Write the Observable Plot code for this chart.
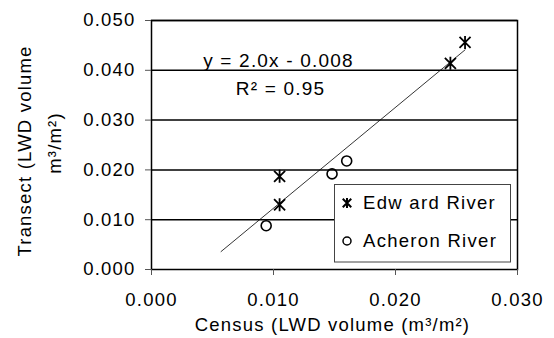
<!DOCTYPE html>
<html>
<head>
<meta charset="utf-8">
<script src="https://cdn.jsdelivr.net/npm/d3@7"></script>
<script src="https://cdn.jsdelivr.net/npm/@observablehq/plot@0.6"></script>
<style>
  html, body { margin: 0; padding: 0; background: #fff; }
  #chart { position: relative; width: 554px; height: 338px; }
</style>
</head>
<body>
<div id="chart"></div>
<script>
// ---- data ----
const edwardX = [0.0105, 0.0105, 0.0245, 0.0257];
const edwardY = [0.0187, 0.0130, 0.0414, 0.0456];
const acheronX = [0.0094, 0.0148, 0.0160];
const acheronY = [0.0088, 0.0192, 0.0218];
const trendX = [0.0057, 0.0257];
const trendY = [0.0036, 0.0441];
const xTicks = [0, 0.01, 0.02, 0.03];
const yTicks = [0, 0.01, 0.02, 0.03, 0.04, 0.05];
const seriesNames = ["Edw ard River", "Acheron River"];
const equationText = "y = 2.0x - 0.008";
const r2Text = "R\u00B2 = 0.95";
const xTitle = "Census (LWD volume (m\u00B3/m\u00B2)";
const yTitle1 = "Transect (LWD volume";
const yTitle2 = "m\u00B3/m\u00B2)";

// tables built from arrays
const edward = edwardX.map((x, i) => ({x, y: edwardY[i]}));
const acheron = acheronX.map((x, i) => ({x, y: acheronY[i]}));
const trend = trendX.map((x, i) => ({x, y: trendY[i]}));

// Excel-style star marker: X with vertical bar
const star = {
  draw(ctx, size) {
    const r = Math.sqrt(size / Math.PI);
    const w = r * 0.85;
    ctx.moveTo(0, -r); ctx.lineTo(0, r);
    ctx.moveTo(-w, -w); ctx.lineTo(w, w);
    ctx.moveTo(-w, w); ctx.lineTo(w, -w);
  }
};

const fmt = d3.format(".3f");
const FONT = "'Liberation Sans', Arial, sans-serif";

const plot = Plot.plot({
  width: 554,
  height: 338,
  marginLeft: 151,
  marginRight: 37,
  marginTop: 20,
  marginBottom: 69,
  style: {fontFamily: FONT, fontSize: "18.5px", color: "#000", background: "#fff", letterSpacing: "1.2px"},
  x: {domain: [0, 0.03]},
  y: {domain: [0, 0.05]},
  marks: [
    Plot.ruleY(yTicks.slice(1), {x1: 0, x2: 0.03, stroke: "#000", strokeWidth: 1.5}),
    Plot.frame({stroke: "#000", strokeWidth: 1.5}),
    Plot.axisY({ticks: yTicks, tickFormat: fmt, tickSize: 6, tickPadding: 10, label: null, fontSize: 18.5, stroke: "#555"}),
    Plot.axisX({ticks: xTicks, tickFormat: fmt, tickSize: 6, tickPadding: 17, label: null, fontSize: 18.5, stroke: "#555"}),
    Plot.line(trend, {x: "x", y: "y", stroke: "#000", strokeWidth: 0.8}),
    Plot.dot(acheron, {x: "x", y: "y", r: 5, symbol: "circle", stroke: "#000", strokeWidth: 1.6, fill: "none"}),
    Plot.dot(edward, {x: "x", y: "y", r: 6.5, symbol: star, stroke: "#000", strokeWidth: 1.8, fill: "none"}),
    Plot.text([equationText], {frameAnchor: "top-left", dx: 127, dy: 40, text: d => d, textAnchor: "middle", lineAnchor: "middle", fontSize: 19}),
    Plot.text([r2Text], {frameAnchor: "top-left", dx: 129, dy: 68, text: d => d, textAnchor: "middle", lineAnchor: "middle", fontSize: 19}),
    Plot.text([xTitle], {frameAnchor: "bottom", dx: -2, dy: 56, text: d => d, textAnchor: "middle", lineAnchor: "middle", fontSize: 18.5}),
    Plot.text([yTitle1], {frameAnchor: "left", dx: -126, dy: 6, rotate: -90, text: d => d, textAnchor: "middle", lineAnchor: "middle", fontSize: 18.5}),
    Plot.text([yTitle2], {frameAnchor: "left", dx: -96, dy: -2, rotate: -90, text: d => d, textAnchor: "middle", lineAnchor: "middle", fontSize: 18.5})
  ]
});

// legend box drawn into the same SVG
const svg = d3.select(plot);
const lg = svg.append("g").attr("font-family", FONT).attr("font-size", 18.5)
  .attr("letter-spacing", "1.3px").attr("text-anchor", "start");
lg.append("rect").attr("x", 334.5).attr("y", 184.5).attr("width", 176).attr("height", 77.5)
  .attr("fill", "#fff").attr("stroke", "#444").attr("stroke-width", 1);
const rows = [203, 241];
const sx = d3.scaleOrdinal().domain(seriesNames).range(rows);
lg.append("path").attr("transform", `translate(347,${sx(seriesNames[0])})`)
  .attr("d", d3.symbol(star, Math.PI * 25)()).attr("stroke", "#000").attr("stroke-width", 2).attr("fill", "none");
lg.append("circle").attr("cx", 347).attr("cy", sx(seriesNames[1])).attr("r", 4)
  .attr("stroke", "#000").attr("stroke-width", 1.5).attr("fill", "none");
seriesNames.forEach(n => {
  lg.append("text").attr("x", 363).attr("y", sx(n)).attr("dy", "0.35em")
    .attr("text-anchor", "start").attr("fill", "#000").text(n);
});

document.getElementById("chart").appendChild(plot);
</script>
</body>
</html>
